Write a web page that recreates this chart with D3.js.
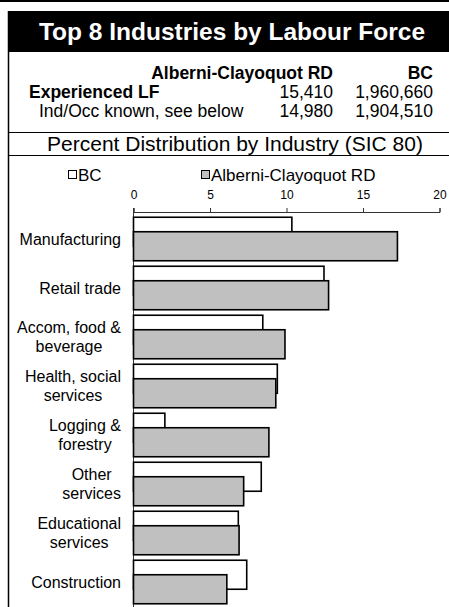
<!DOCTYPE html>
<html>
<head>
<meta charset="utf-8">
<script src="https://cdn.jsdelivr.net/npm/d3@7/dist/d3.min.js"></script>
<style>
  html, body { margin: 0; padding: 0; background: #fff; }
  svg { display: block; font-family: "Liberation Sans", Arial, sans-serif; }
</style>
</head>
<body>
<svg id="chart" width="449" height="607"></svg>
<script>
// ---- data ----
const title = "Top 8 Industries by Labour Force";
const headerColumns = ["Alberni-Clayoquot RD", "BC"];
const rowLabels = ["Experienced LF", "Ind/Occ known, see below"];
const regionCounts = ["15,410", "14,980"];
const bcCounts = ["1,960,660", "1,904,510"];
const subtitle = "Percent Distribution by Industry (SIC 80)";
const seriesNames = ["BC", "Alberni-Clayoquot RD"];
const categories = [
  "Manufacturing",
  "Retail trade",
  "Accom, food &\nbeverage",
  "Health, social\nservices",
  "Logging &\nforestry",
  "Other\nservices",
  "Educational\nservices",
  "Construction"
];
const bcValues = [10.35, 12.45, 8.45, 9.4, 2.05, 8.35, 6.85, 7.4];
const regionValues = [17.25, 12.75, 9.9, 9.3, 8.85, 7.2, 6.9, 6.1];
const tickValues = [0, 5, 10, 15, 20];

// ---- drawing ----
const svg = d3.select("#chart");
const W = 449, H = 607;
const frameLeft = 8.5;

svg.append("rect").attr("x", 0).attr("y", 0).attr("width", W).attr("height", H).attr("fill", "#fff");

// top rule
svg.append("rect").attr("x", 0).attr("y", 0).attr("width", W).attr("height", 2).attr("fill", "#000");

// title box
svg.append("rect").attr("x", 8).attr("y", 11).attr("width", W - 8).attr("height", 41).attr("fill", "#000");
svg.append("text").attr("x", 232).attr("y", 40)
  .attr("text-anchor", "middle").attr("fill", "#fff")
  .attr("font-size", 24.5).attr("font-weight", "bold").text(title);

// left frame line
svg.append("line").attr("x1", frameLeft).attr("x2", frameLeft).attr("y1", 11).attr("y2", H)
  .attr("stroke", "#000").attr("stroke-width", 1.5);

// header table
const colRight = [333, 433];
const head = svg.append("g").attr("font-size", 17.5).attr("fill", "#000");
headerColumns.forEach((h, i) => {
  head.append("text").attr("x", colRight[i]).attr("y", 79).attr("text-anchor", "end")
    .attr("font-weight", "bold").text(h);
});
const rowY = [98, 117];
head.append("text").attr("x", 29).attr("y", rowY[0]).attr("font-weight", "bold").text(rowLabels[0]);
head.append("text").attr("x", 39).attr("y", rowY[1]).text(rowLabels[1]);
regionCounts.forEach((v, i) => head.append("text").attr("x", colRight[0]).attr("y", rowY[i]).attr("text-anchor", "end").text(v));
bcCounts.forEach((v, i) => head.append("text").attr("x", colRight[1]).attr("y", rowY[i]).attr("text-anchor", "end").text(v));

// rules around subtitle
[132.5, 155.5].forEach(y => svg.append("line").attr("x1", frameLeft).attr("x2", W).attr("y1", y).attr("y2", y)
  .attr("stroke", "#000").attr("stroke-width", 1.2));
svg.append("text").attr("x", 235).attr("y", 151).attr("text-anchor", "middle")
  .attr("font-size", 21).attr("fill", "#000").text(subtitle);

// scales
const x = d3.scaleLinear().domain([0, 20]).range([133.5, 439.5]);
const y = d3.scaleBand().domain(categories).range([214.5, 606.5]).paddingInner(0.112).paddingOuter(0.056);
const barH = y.bandwidth() * 2 / 3;
const offset = y.bandwidth() / 3;

// legend
const fills = ["#ffffff", "#c0c0c0"];
const legendX = [68, 201];
const legend = svg.append("g");
seriesNames.forEach((n, i) => {
  legend.append("rect").attr("x", legendX[i] + 0.5).attr("y", 170.5).attr("width", 8).attr("height", 8)
    .attr("fill", fills[i]).attr("stroke", "#000").attr("stroke-width", 1);
  legend.append("text").attr("x", legendX[i] + 10).attr("y", 181).attr("font-size", 17).text(n);
});

// axis
const axisY = 212;
const ax = svg.append("g").attr("transform", `translate(0,${axisY})`)
  .call(d3.axisTop(x).tickValues(tickValues).tickSize(4).tickPadding(9).tickFormat(d3.format("d")));
ax.select(".domain").attr("stroke", "#333");
ax.selectAll(".tick line").attr("stroke", "#333");
ax.selectAll(".tick text").attr("font-size", 12).attr("font-family", "Liberation Sans, Arial, sans-serif").attr("fill", "#000");

// vertical category axis line
svg.append("line").attr("x1", x(0)).attr("x2", x(0)).attr("y1", axisY - 4).attr("y2", H)
  .attr("stroke", "#333").attr("stroke-width", 1);

// bars
const bars = svg.append("g");
bars.selectAll("rect.bc").data(categories).join("rect").attr("class", "bc")
  .attr("x", x(0)).attr("y", d => y(d))
  .attr("width", (d, i) => x(bcValues[i]) - x(0)).attr("height", barH)
  .attr("fill", fills[0]).attr("stroke", "#000").attr("stroke-width", 1.6);
bars.selectAll("rect.rg").data(categories).join("rect").attr("class", "rg")
  .attr("x", x(0)).attr("y", d => y(d) + offset)
  .attr("width", (d, i) => x(regionValues[i]) - x(0)).attr("height", barH)
  .attr("fill", fills[1]).attr("stroke", "#000").attr("stroke-width", 1.6);

// category labels (multi-line, centered block, right-aligned)
const labelRight = 121;
const lineH = 19;
const labels = svg.append("g").attr("font-size", 16).attr("fill", "#000");
categories.forEach(c => {
  const lines = c.split("\n");
  const g = labels.append("g");
  const texts = lines.map((l, j) => g.append("text").attr("text-anchor", "middle")
    .attr("y", y(c) + y.bandwidth() / 2 + 5.5 + (j - (lines.length - 1) / 2) * lineH).text(l));
  const maxW = d3.max(texts, t => t.node().getComputedTextLength());
  texts.forEach(t => t.attr("x", labelRight - maxW / 2));
});
</script>
</body>
</html>
